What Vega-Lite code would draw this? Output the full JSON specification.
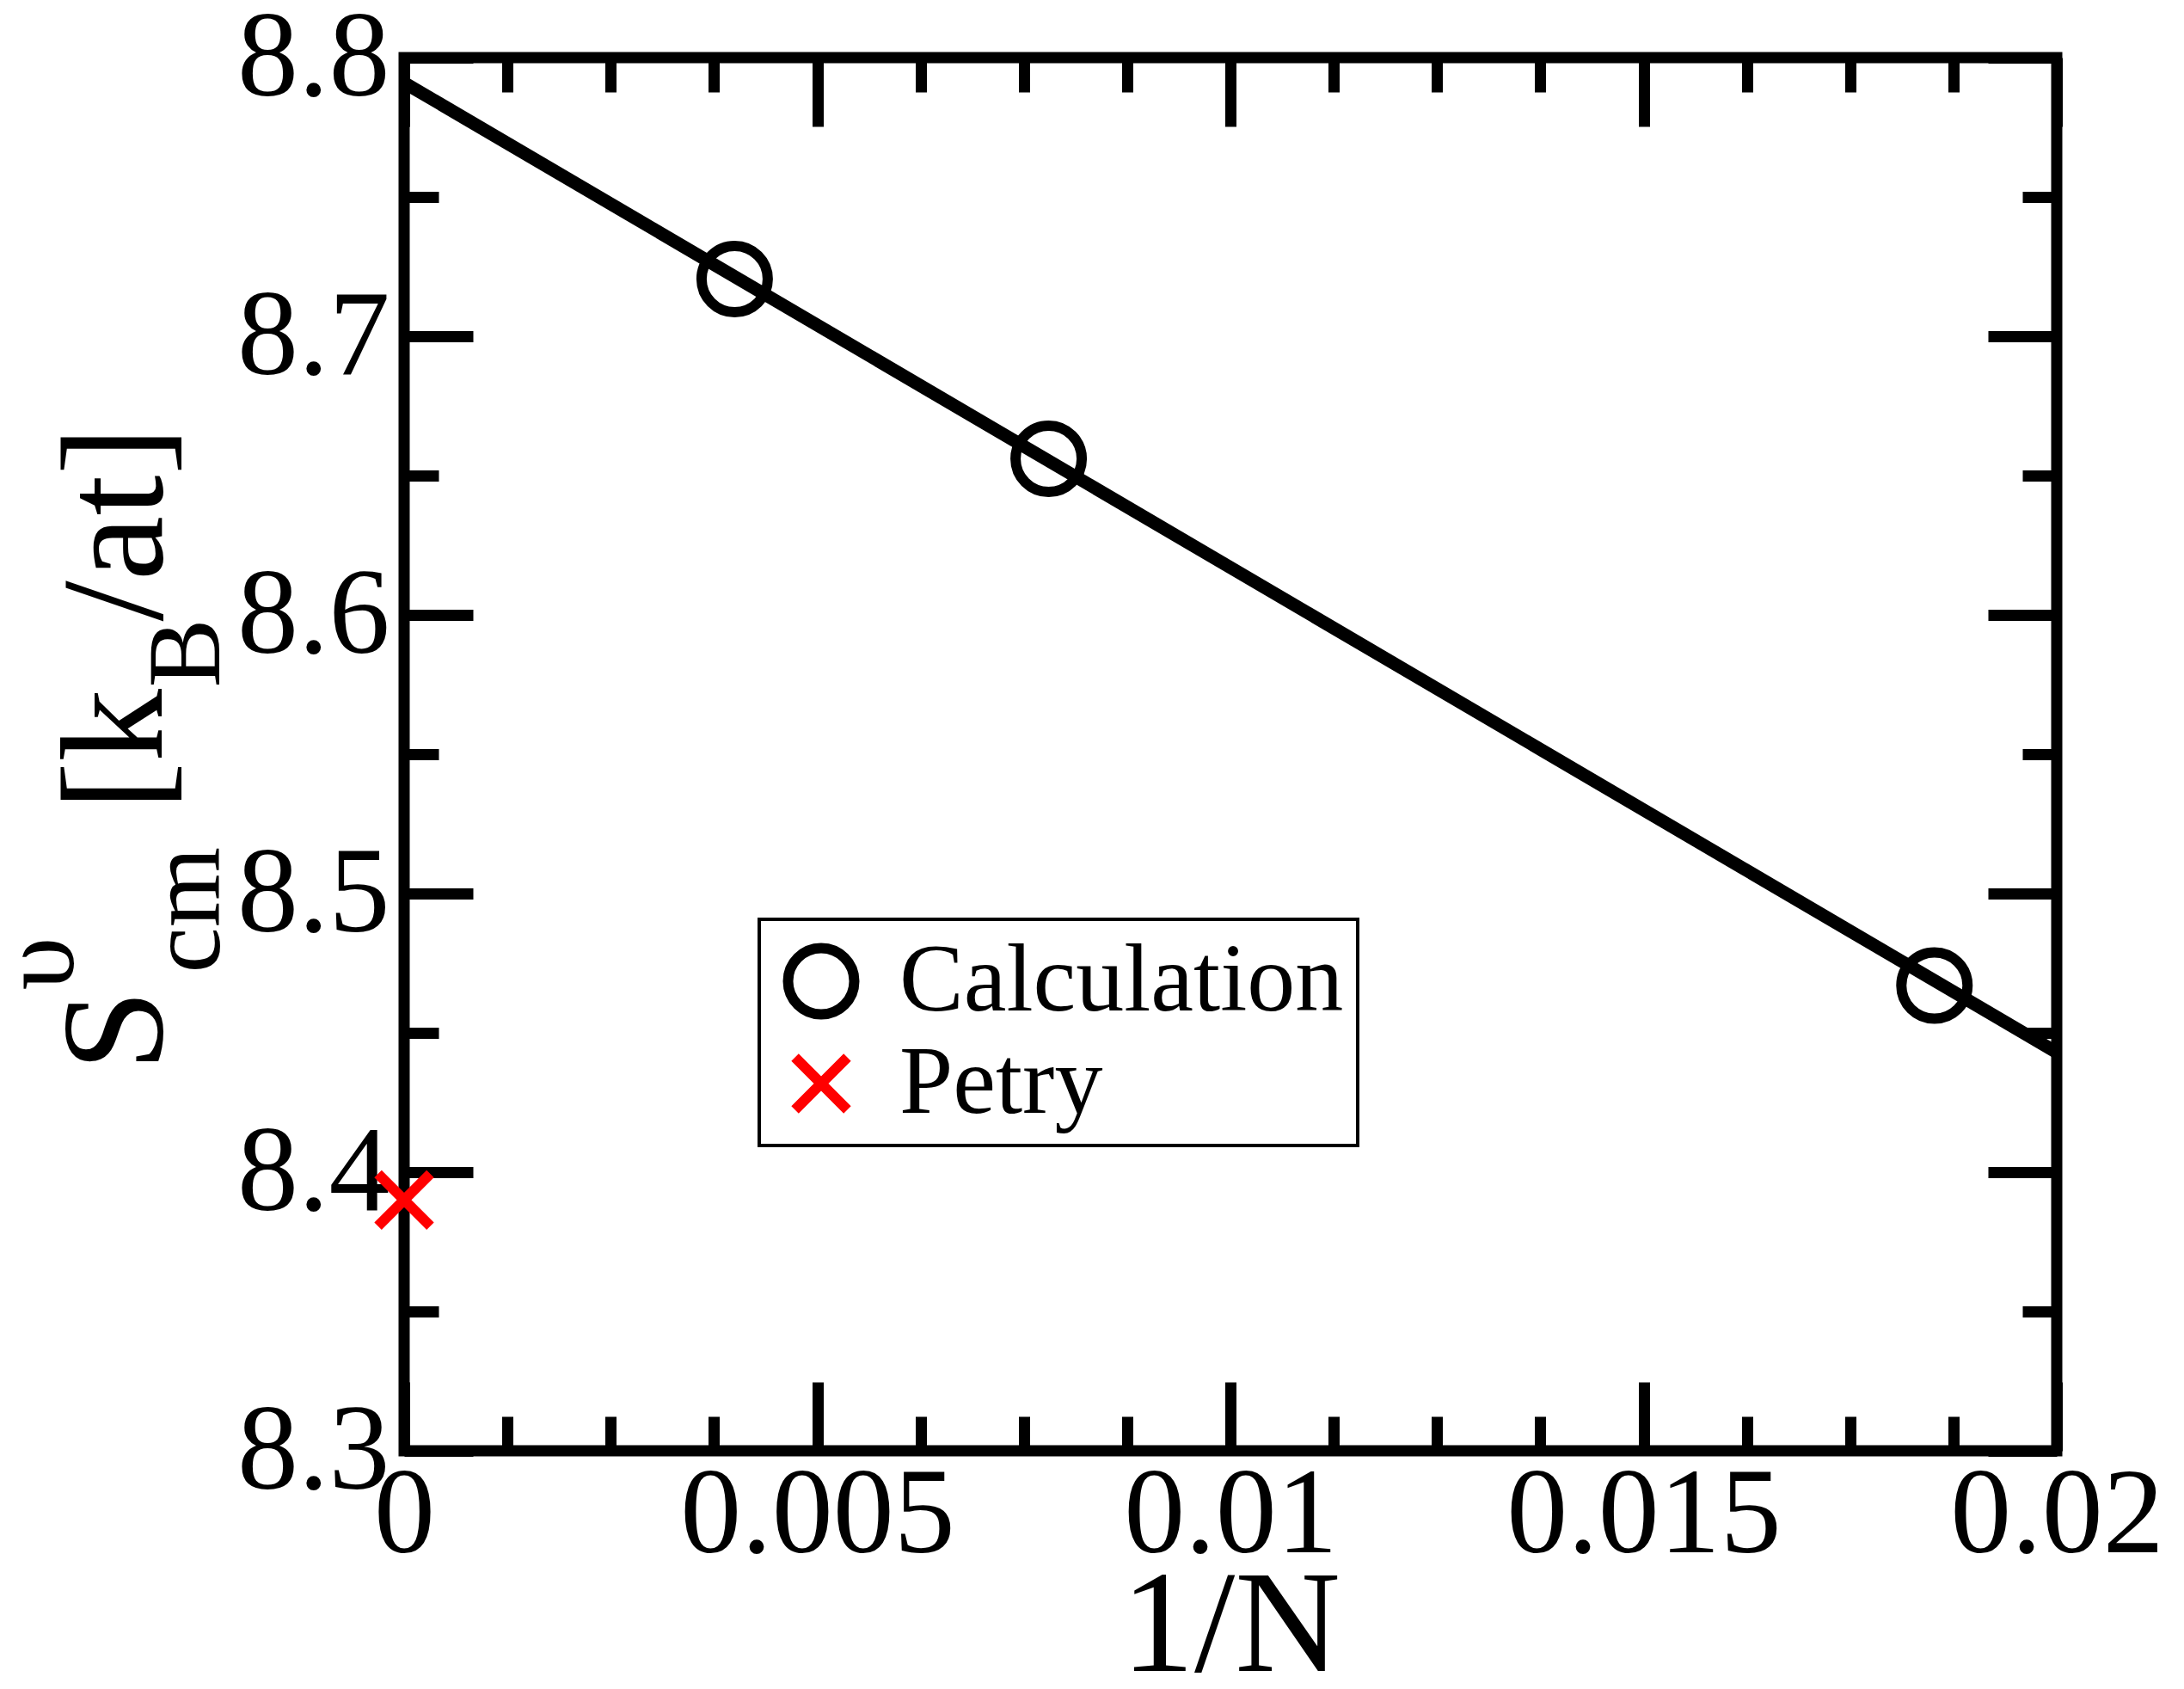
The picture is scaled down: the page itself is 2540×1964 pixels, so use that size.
{
  "$schema": "https://vega.github.io/schema/vega-lite/v6.json",
  "description": "Vacancy formation entropy vs 1/N with linear fit",
  "width": 1922,
  "height": 1620,
  "autosize": {"type": "none"},
  "padding": {"left": 470, "top": 67, "right": 148, "bottom": 277},
  "background": "white",
  "datasets": {
    "fit": [
      {"invN": 0, "S": 8.791},
      {"invN": 0.02, "S": 8.443}
    ],
    "pts": [
      {"invN": 0.004, "S": 8.7205, "series": "Calculation"},
      {"invN": 0.0078, "S": 8.656, "series": "Calculation"},
      {"invN": 0.01852, "S": 8.467, "series": "Calculation"},
      {"invN": 0, "S": 8.39, "series": "Petry"}
    ]
  },
  "resolve": {"axis": {"x": "independent", "y": "independent"}},
  "layer": [
    {
      "data": {"name": "fit"},
      "mark": {"type": "line", "color": "black", "strokeWidth": 15},
      "encoding": {
        "x": {
          "field": "invN", "type": "quantitative",
          "scale": {"domain": [0, 0.02], "nice": false, "zero": false},
          "axis": {
            "orient": "bottom",
            "values": [0, 0.005, 0.01, 0.015, 0.02],
            "format": "~g",
            "tickSize": -80,
            "labelPadding": 85,
            "title": "1/N",
            "titleFontSize": 170,
            "titleY": 255,
            "titleBaseline": "alphabetic"
          }
        },
        "y": {
          "field": "S", "type": "quantitative",
          "scale": {"domain": [8.3, 8.8], "nice": false, "zero": false},
          "axis": {
            "orient": "left",
            "values": [8.3, 8.4, 8.5, 8.6, 8.7, 8.8],
            "format": ".1f",
            "tickSize": -80,
            "labelPadding": 97,
            "title": "S",
            "titleFontSize": 170,
            "titleAngle": 270,
            "titleAlign": "left",
            "titleBaseline": "alphabetic",
            "titleX": -283,
            "titleY": 1178
          }
        }
      }
    },
    {
      "data": {"name": "pts"},
      "mark": {"type": "point", "filled": false, "strokeWidth": 12, "opacity": 1},
      "encoding": {
        "x": {
          "field": "invN", "type": "quantitative",
          "scale": {"domain": [0, 0.02], "nice": false, "zero": false},
          "axis": {
            "orient": "top",
            "values": [0, 0.005, 0.01, 0.015, 0.02],
            "labels": false,
            "tickSize": -80,
            "title": "υ",
            "titleFontSize": 125,
            "titleAngle": 270,
            "titleAlign": "left",
            "titleBaseline": "alphabetic",
            "titleX": -386,
            "titleY": 1084
          }
        },
        "y": {
          "field": "S", "type": "quantitative",
          "scale": {"domain": [8.3, 8.8], "nice": false, "zero": false},
          "axis": {
            "orient": "right",
            "values": [8.3, 8.4, 8.5, 8.6, 8.7, 8.8],
            "labels": false,
            "tickSize": -80,
            "title": "cm",
            "titleFontSize": 120,
            "titleAngle": 270,
            "titleAlign": "left",
            "titleBaseline": "alphabetic",
            "titleX": -2138,
            "titleY": 1064
          }
        },
        "color": {
          "field": "series", "type": "nominal",
          "scale": {"domain": ["Calculation", "Petry"], "range": ["black", "#ff0000"]},
          "legend": {"title": null}
        },
        "shape": {
          "field": "series", "type": "nominal",
          "scale": {"domain": ["Calculation", "Petry"], "range": ["circle", "M-1,-1L1,1M1,-1L-1,1"]},
          "legend": {"title": null}
        },
        "size": {
          "field": "series", "type": "nominal",
          "scale": {"domain": ["Calculation", "Petry"], "range": [5929, 3700]},
          "legend": {"title": null}
        }
      }
    },
    {
      "data": {"name": "fit"},
      "mark": {"type": "point", "opacity": 0},
      "encoding": {
        "x": {
          "field": "invN", "type": "quantitative",
          "scale": {"domain": [0, 0.02], "nice": false, "zero": false},
          "axis": {
            "orient": "bottom",
            "values": [0.00125, 0.0025, 0.00375, 0.00625, 0.0075, 0.00875, 0.01125, 0.0125, 0.01375, 0.01625, 0.0175, 0.01875],
            "labels": false,
            "tickSize": -40,
            "title": "[k",
            "titleFontSize": 170,
            "titleAngle": 270,
            "titleAlign": "left",
            "titleBaseline": "alphabetic",
            "titleX": -283,
            "titleY": -745
          }
        },
        "y": {
          "field": "S", "type": "quantitative",
          "scale": {"domain": [8.3, 8.8], "nice": false, "zero": false},
          "axis": {
            "orient": "left",
            "values": [8.35, 8.45, 8.55, 8.65, 8.75],
            "labels": false,
            "tickSize": -40,
            "title": "B",
            "titleFontSize": 120,
            "titleAngle": 270,
            "titleAlign": "left",
            "titleBaseline": "alphabetic",
            "titleX": -216,
            "titleY": 732
          }
        }
      }
    },
    {
      "data": {"name": "fit"},
      "mark": {"type": "point", "opacity": 0},
      "encoding": {
        "x": {
          "field": "invN", "type": "quantitative",
          "scale": {"domain": [0, 0.02], "nice": false, "zero": false},
          "axis": {
            "orient": "top",
            "values": [0.00125, 0.0025, 0.00375, 0.00625, 0.0075, 0.00875, 0.01125, 0.0125, 0.01375, 0.01625, 0.0175, 0.01875],
            "labels": false,
            "tickSize": -40,
            "title": "/at]",
            "titleFontSize": 170,
            "titleAngle": 270,
            "titleAlign": "left",
            "titleBaseline": "alphabetic",
            "titleX": -283,
            "titleY": 655
          }
        },
        "y": {
          "field": "S", "type": "quantitative",
          "scale": {"domain": [8.3, 8.8], "nice": false, "zero": false},
          "axis": {
            "orient": "right",
            "values": [8.35, 8.45, 8.55, 8.65, 8.75],
            "labels": false,
            "tickSize": -40,
            "title": null
          }
        }
      }
    }
  ],
  "config": {
    "view": {"stroke": "black", "strokeWidth": 13},
    "axis": {
      "grid": false,
      "domain": false,
      "ticks": true,
      "tickColor": "black",
      "tickWidth": 13,
      "labelFont": "Liberation Serif",
      "labelFontSize": 142,
      "labelColor": "black",
      "labelOverlap": false,
      "labelFlush": false,
      "labelBound": false,
      "labelLimit": 2000,
      "titleFont": "Liberation Serif",
      "titleColor": "black",
      "titleFontWeight": "normal",
      "titlePadding": 0,
      "titleLimit": 3000
    },
    "legend": {
      "orient": "none",
      "legendX": 413,
      "legendY": 1002,
      "strokeColor": "black",
      "strokeWidth": 4,
      "fillColor": "white",
      "padding": 16,
      "labelFont": "Liberation Serif",
      "labelFontSize": 112,
      "labelColor": "black",
      "labelLimit": 2000,
      "labelOffset": 35,
      "symbolStrokeWidth": 12,
      "rowPadding": 0
    }
  }
}
